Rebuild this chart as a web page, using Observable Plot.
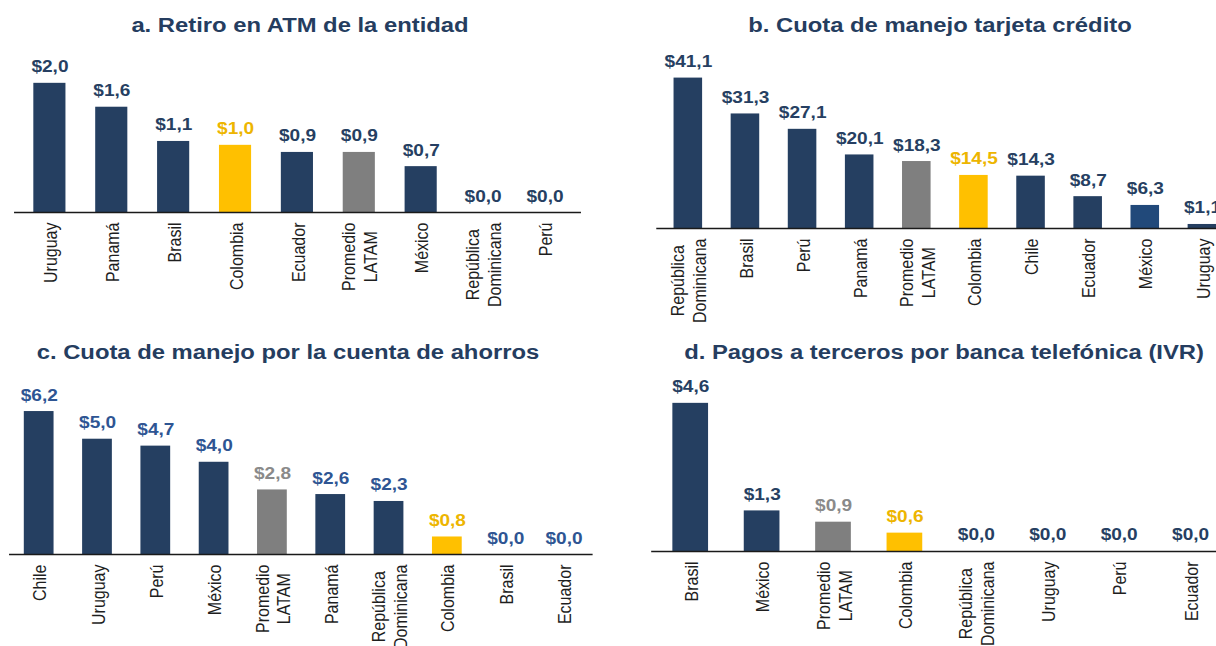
<!DOCTYPE html>
<html>
<head>
<meta charset="utf-8">
<script src="https://cdn.jsdelivr.net/npm/d3@7"></script>
<script src="https://cdn.jsdelivr.net/npm/@observablehq/plot@0.6"></script>
<style>
  html, body { margin: 0; padding: 0; background: #fff; overflow: hidden; width: 1216px; height: 646px; }
  #stage { position: absolute; left: 0; top: 0; width: 1100px; height: 646px; transform: scaleX(1.19); transform-origin: 0 0; font-family: "Liberation Sans", Arial, sans-serif; }
  .panel { position: absolute; }
  .title { position: absolute; white-space: nowrap; transform: translateX(-50%); font-weight: bold; font-size: 20px; line-height: 20px; color: #253D5F; }
</style>
</head>
<body>
<div id="stage"></div>
<script>
// ---------- data ----------
const titleA = "a. Retiro en ATM de la entidad";
const catsA = ["Uruguay", "Panamá", "Brasil", "Colombia", "Ecuador", "Promedio\nLATAM", "México", "República\nDominicana", "Perú"];
const valsA = [2.00, 1.63, 1.10, 1.04, 0.93, 0.93, 0.71, 0, 0];

const titleB = "b. Cuota de manejo tarjeta crédito";
const catsB = ["República\nDominicana", "Brasil", "Perú", "Panamá", "Promedio\nLATAM", "Colombia", "Chile", "Ecuador", "México", "Uruguay"];
const valsB = [41.1, 31.3, 27.1, 20.1, 18.3, 14.5, 14.3, 8.7, 6.3, 1.1];

const titleC = "c. Cuota de manejo por la cuenta de ahorros";
const catsC = ["Chile", "Uruguay", "Perú", "México", "Promedio\nLATAM", "Panamá", "República\nDominicana", "Colombia", "Brasil", "Ecuador"];
const valsC = [6.2, 5.0, 4.7, 4.0, 2.8, 2.6, 2.3, 0.76, 0, 0];

const titleD = "d. Pagos a terceros por banca telefónica (IVR)";
const catsD = ["Brasil", "México", "Promedio\nLATAM", "Colombia", "República\nDominicana", "Uruguay", "Perú", "Ecuador"];
const valsD = [4.6, 1.26, 0.91, 0.57, 0, 0, 0, 0];

// ---------- styling ----------
const NAVY = "#253F61", YELLOW = "#FFC000", GRAY = "#7F7F7F", BLUE2 = "#21497A";
const FONT = "Liberation Sans, Arial, sans-serif";
const CAT_SIZE = 16;
const canvas = document.createElement("canvas");
const ctx = canvas.getContext("2d");
ctx.font = CAT_SIZE + "px 'Liberation Sans'";

function barColor(cat, panel) {
  if (cat === "Colombia") return YELLOW;
  if (cat.startsWith("Promedio")) return GRAY;
  if (panel === "b" && cat === "México") return BLUE2;
  return NAVY;
}
function labelColor(cat, panel) {
  if (cat === "Colombia") return "#EDB500";
  if (cat.startsWith("Promedio") && (panel === "c" || panel === "d")) return "#8A8A8A";
  if (panel === "c") return "#2E5593";
  return "#263F62";
}
const fmt = v => "$" + v.toFixed(1).replace(".", ",");

function panel(opts) {
  const {id, cats, vals, left, top, width, height, mLeft, mRight, mBottom, yMax, pad} = opts;
  const data = cats.map((c, i) => ({cat: c, value: vals[i]}));
  const catMarks = cats.map(c => {
    const lines = c.split("\n");
    const w = Math.max(...lines.map(l => ctx.measureText(l).width));
    return Plot.text([c], {
      x: d => d, y: () => 0, text: d => d, rotate: -90,
      textAnchor: "middle", lineAnchor: "middle", lineHeight: 1.15,
      dy: 10 + w / 2, fontSize: CAT_SIZE, fill: "#1e1e1e", fontFamily: FONT
    });
  });
  const chart = Plot.plot({
    width, height,
    marginLeft: mLeft, marginRight: mRight, marginTop: 40, marginBottom: mBottom,
    style: {fontFamily: FONT, background: "transparent", overflow: "visible"},
    x: {type: "band", domain: cats, paddingInner: pad, paddingOuter: pad / 2, align: 0.5, axis: null},
    y: {domain: [0, yMax], axis: null},
    color: {type: "identity"},
    marks: [
      Plot.barY(data, {x: "cat", y: "value", fill: d => barColor(d.cat, id)}),
      Plot.ruleY([0], {stroke: "#1a1a1a", strokeWidth: 1.5}),
      Plot.text(data, {x: "cat", y: "value", text: d => fmt(d.value), lineAnchor: "bottom", dy: -11,
        fill: d => labelColor(d.cat, id), fontWeight: "bold", fontSize: 16, fontFamily: FONT}),
      ...catMarks
    ]
  });
  const wrap = document.createElement("div");
  wrap.className = "panel";
  wrap.style.left = left + "px";
  wrap.style.top = top + "px";
  wrap.appendChild(chart);
  document.getElementById("stage").appendChild(wrap);
}
function title(text, cx, top) {
  const t = document.createElement("div");
  t.className = "title";
  t.textContent = text;
  t.style.left = cx + "px";
  t.style.top = top + "px";
  document.getElementById("stage").appendChild(t);
}

panel({id: "a", cats: catsA, vals: valsA, left: 0, top: 0, width: 500, height: 330, mLeft: 11.8, mRight: 11.8, mBottom: 118, yMax: 2.663, pad: 0.48});
panel({id: "b", cats: catsB, vals: valsB, left: 540, top: 0, width: 505.5, height: 330, mLeft: 11.5, mRight: 10, mBottom: 102, yMax: 51.37, pad: 0.5});
panel({id: "c", cats: catsC, vals: valsC, left: 0, top: 330, width: 510, height: 316, mLeft: 7.6, mRight: 12, mBottom: 92, yMax: 7.98, pad: 0.486});
panel({id: "d", cats: catsD, vals: valsD, left: 540, top: 330, width: 502.6, height: 316, mLeft: 7.2, mRight: 10, mBottom: 95, yMax: 5.62, pad: 0.5});

title(titleA, 252.1, 14.8);
title(titleB, 789.9, 14.8);
title(titleC, 242, 342);
title(titleD, 793.3, 342);
</script>
</body>
</html>
